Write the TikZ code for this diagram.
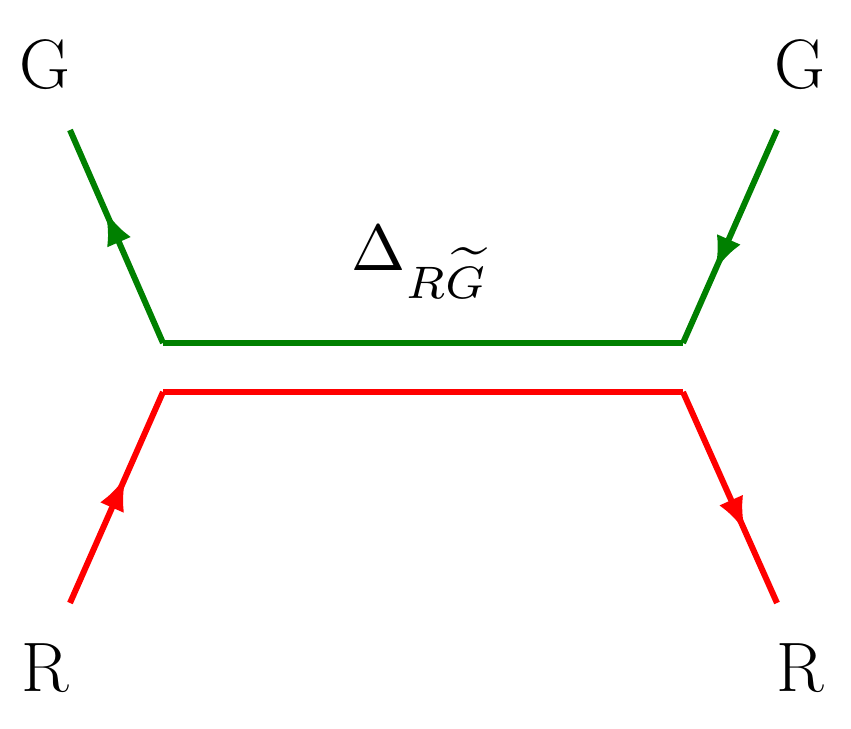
\documentclass[tikz,border=0pt]{standalone}
\usetikzlibrary{decorations.markings,arrows.meta}
\begin{document}
\begin{tikzpicture}[x=1pt,y=-1pt,
  ln/.style={line width=6pt},
  midarr/.style={postaction={decorate},decoration={markings,mark=at position #1 with {\arrow{Latex[length=34pt,width=26pt]}}}},
  lab/.style={font=\fontsize{70}{80}\selectfont}]
\useasboundingbox (0,0) rectangle (851,728);
\definecolor{gr}{RGB}{0,128,0}
\coordinate (g1) at (70,130); \coordinate (g2) at (163,343);
\coordinate (g3) at (683,343); \coordinate (g4) at (777,130);
\coordinate (r1) at (70,603); \coordinate (r2) at (163,392);
\coordinate (r3) at (683,392); \coordinate (r4) at (777,603);
\draw[ln,gr,midarr=0.62] (g2) -- (g1);
\draw[ln,gr] (g2) -- (g3);
\draw[ln,gr,midarr=0.66] (g4) -- (g3);
\draw[ln,red,midarr=0.6] (r1) -- (r2);
\draw[ln,red] (r2) -- (r3);
\draw[ln,red,midarr=0.66] (r3) -- (r4);
\node[lab] (G1) at (45,65) {G};
\node[lab] (G2) at (800,65) {G};
\node[lab] (R1) at (45,668) {R};
\node[lab] (R2) at (800,668) {R};
\node (D) at (420,262) {\scalebox{6.5}{$\Delta_{R\widetilde{G}}$}};
\end{tikzpicture}
\end{document}
